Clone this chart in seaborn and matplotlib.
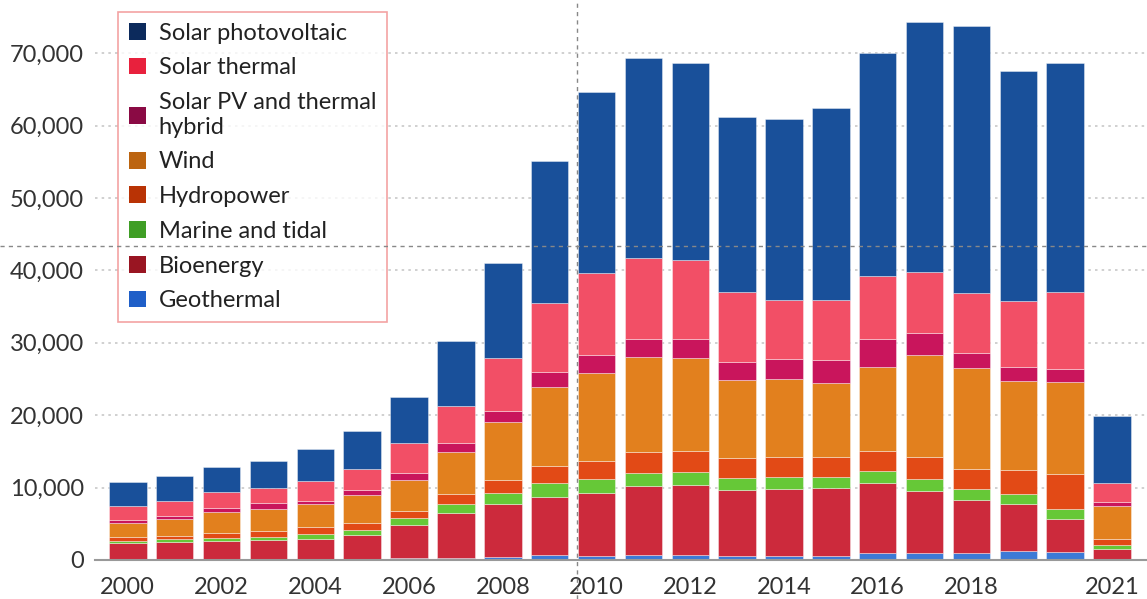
import numpy as np
import pandas as pd
import seaborn as sns
import matplotlib.pyplot as plt
from matplotlib.patches import Patch
from matplotlib.lines import Line2D
from matplotlib.ticker import FuncFormatter

# data, years 2000 to 2021
years = [str(y) for y in range(2000, 2022)]
tick_years = ['2000', '2002', '2004', '2006', '2008', '2010', '2012', '2014', '2016', '2018', '2021']

geothermal = [50, 50, 50, 50, 50, 50, 300, 320, 460, 690, 550, 690, 690, 600, 600, 600, 1000, 920, 920, 1200, 1100, 150]
bioenergy = [2250, 2430, 2620, 2710, 2850, 3450, 4580, 6220, 7230, 8060, 8750, 9530, 9620, 9070, 9160, 9390, 9590, 8610, 7370, 6540, 4610, 1370]
marine = [370, 370, 370, 460, 690, 640, 875, 1150, 1520, 1840, 1935, 1840, 1890, 1700, 1750, 1520, 1660, 1705, 1470, 1335, 1380, 505]
hydro = [550, 460, 645, 740, 920, 1015, 1015, 1425, 1840, 2395, 2395, 2900, 2855, 2670, 2670, 2670, 2760, 2945, 2760, 3360, 4790, 875]
wind = [1845, 2345, 2990, 3130, 3180, 3775, 4280, 5845, 7965, 10955, 12150, 13030, 12890, 10820, 10770, 10310, 11690, 14135, 13950, 12295, 12750, 4560]
hybrid = [460, 460, 555, 740, 505, 690, 920, 1245, 1610, 2070, 2535, 2535, 2580, 2440, 2765, 3135, 3825, 3085, 2075, 1885, 1705, 505]
thermal = [1975, 2075, 2210, 2160, 2765, 2995, 4140, 5110, 7320, 9530, 11375, 11140, 10910, 9670, 8195, 8285, 8745, 8330, 8285, 9210, 10725, 2625]
pv = [3230, 3455, 3405, 3640, 4370, 5245, 6450, 8975, 13030, 19570, 24910, 27635, 27165, 24220, 25000, 26520, 30720, 34620, 36970, 31760, 31630, 9345]

# bottom to top
series = ['Geothermal', 'Bioenergy', 'Marine and tidal', 'Hydropower', 'Wind',
          'Solar PV and thermal\nhybrid', 'Solar thermal', 'Solar photovoltaic']
values = [geothermal, bioenergy, marine, hydro, wind, hybrid, thermal, pv]
bar_colors = ['#3c7ad6', '#cc2a3c', '#66c837', '#e24a16', '#e2801e', '#c9155c', '#f24f66', '#19509a']
legend_colors = ['#1f5fc8', '#991522', '#3f9e25', '#b93305', '#bc6410', '#8a0a44', '#e8213d', '#0c2a5c']

sns.set_style('white')
plt.rcParams['font.family'] = ['Lato', 'DejaVu Sans']

fig = plt.figure(figsize=(11.47, 5.99), dpi=100)
ax = fig.add_axes([95 / 1147, 39 / 599, 1052 / 1147, 552 / 599])

bottom = np.zeros(len(years))
for name, vals, col in zip(series, values, bar_colors):
    sns.barplot(x=years, y=vals, bottom=bottom, color=col, saturation=1, width=0.8,
                edgecolor=(1, 1, 1, 0.45), linewidth=0.6, ax=ax, zorder=2)
    bottom = bottom + np.array(vals)

ax.set_xlim(-0.70, 21.745)
ax.set_ylim(0, 76240)
ax.set_xticks([years.index(t) for t in tick_years])
ax.set_xticklabels(tick_years)
ax.set_yticks(range(0, 70001, 10000))
ax.yaxis.set_major_formatter(FuncFormatter(lambda v, p: f'{int(v):,}'))
ax.tick_params(axis='x', length=7, width=1.3, color='#999999', pad=5, labelsize=17, labelcolor='#333333')
ax.tick_params(axis='y', length=0, pad=8, labelsize=17, labelcolor='#333333')
ax.yaxis.grid(True, linestyle=(0, (1.5, 2.5)), color='#c8c8c8', linewidth=1.2)
ax.set_axisbelow(True)
for s in ['top', 'right', 'left']:
    ax.spines[s].set_visible(False)
ax.spines['bottom'].set_color('#999999')
ax.spines['bottom'].set_linewidth(1.5)
ax.set_xlabel('')
ax.set_ylabel('')

handles = [Patch(facecolor=c, edgecolor='none') for c in legend_colors[::-1]]
leg = ax.legend(handles, series[::-1], loc='upper left', bbox_to_anchor=(0.0219, 0.9928),
                borderaxespad=0, fontsize=17, frameon=True, fancybox=False,
                handlelength=0.72, handleheight=0.72, handletextpad=0.55,
                labelspacing=0.58, borderpad=0.45)
leg.get_frame().set_edgecolor('#f08c8c')
leg.get_frame().set_linewidth(1.2)
for t in leg.get_texts():
    t.set_color('#222222')
    t.set_linespacing(1.22)

# hover crosshair seen in the original
fig.add_artist(Line2D([577 / 1147, 577 / 1147], [0, 1], color='#888888', lw=1, ls=(0, (3, 3))))
fig.add_artist(Line2D([0, 1], [1 - 246 / 599, 1 - 246 / 599], color='#888888', lw=1, ls=(0, (3, 3))))

plt.savefig('out.png', dpi=100)
